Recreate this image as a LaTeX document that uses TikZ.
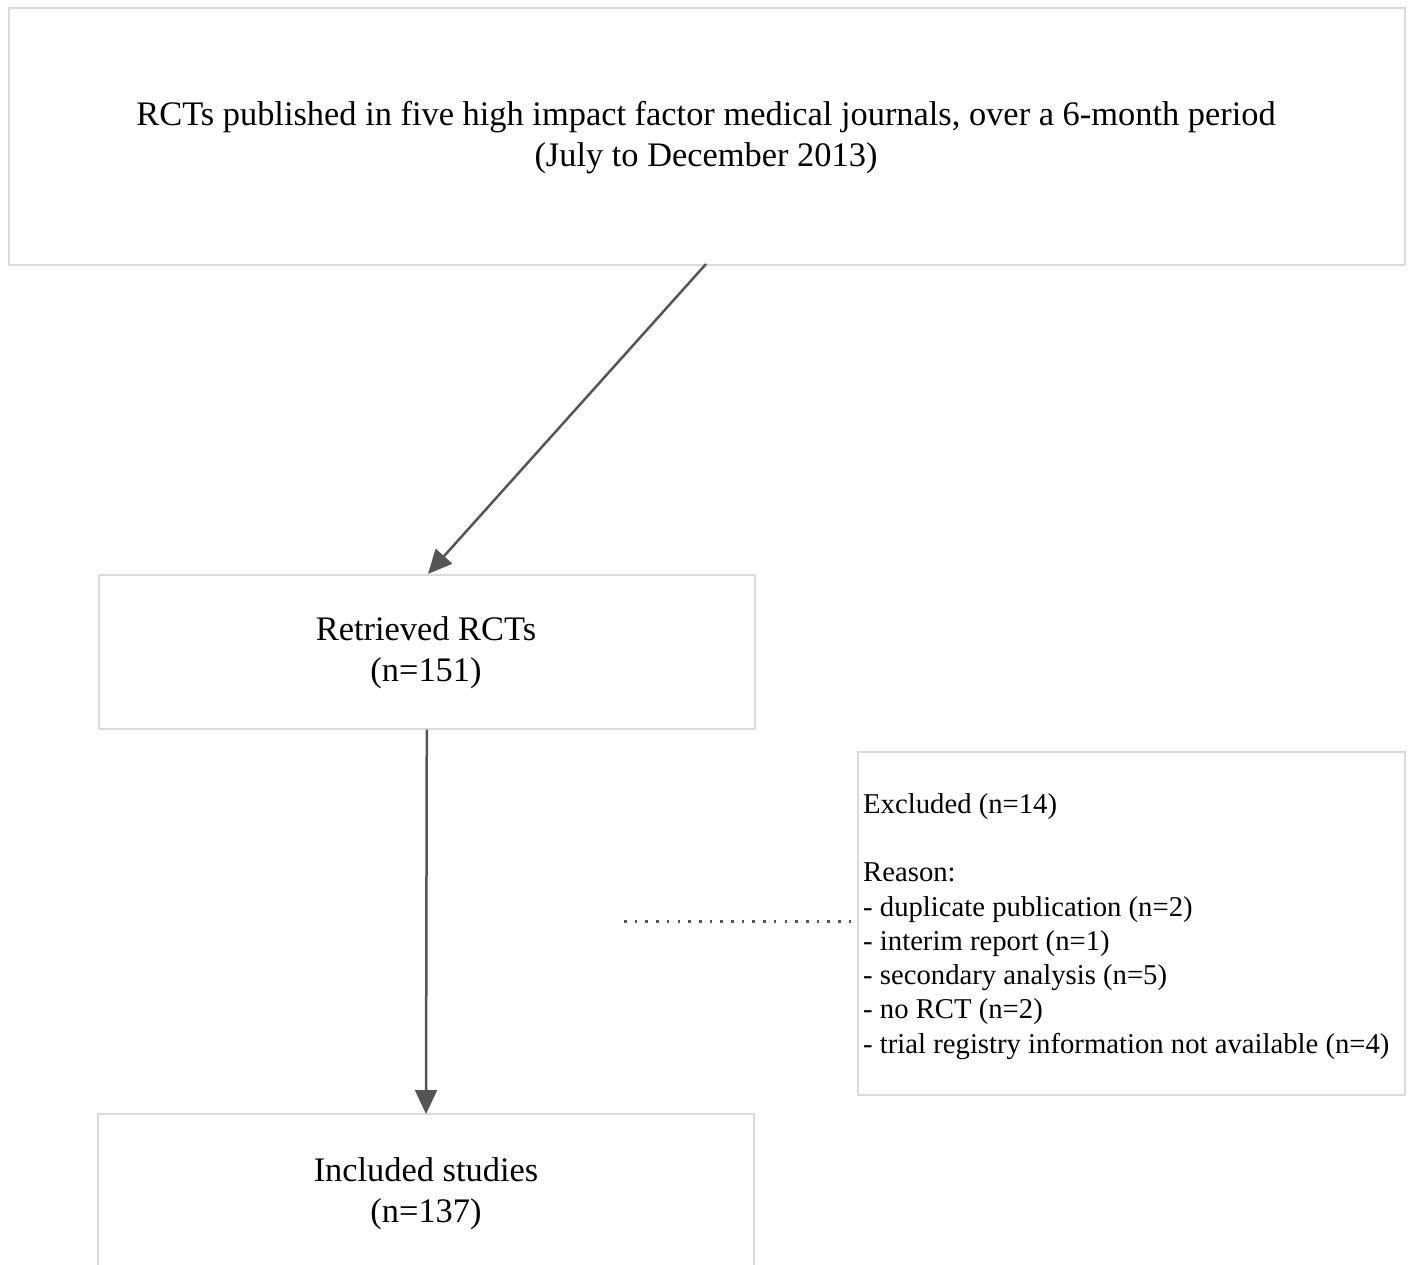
\documentclass[tikz,border=0pt]{standalone}
\usepackage{fontspec}
\setmainfont{Liberation Serif}
\usetikzlibrary{arrows.meta}
\definecolor{boxline}{HTML}{DADADA}
\definecolor{arrowcol}{HTML}{555555}
\begin{document}
\begin{tikzpicture}[x=1pt,y=-1pt,
  boxstyle/.style={draw=boxline,line width=1.6pt,fill=white},
  bigtext/.style={font=\fontsize{34.4}{41}\selectfont,align=center},
  smalltext/.style={font=\fontsize{28.7}{34.3}\selectfont,align=left},
  conn/.style={draw=arrowcol,line width=2.5pt,-{Triangle[length=24pt,width=22pt]}}]
\useasboundingbox (0,0) rectangle (1408,1264);
% boxes
\node[boxstyle,minimum width=1396pt,minimum height=257pt,anchor=north west,inner sep=0pt] (top) at (8,7) {};
\node[boxstyle,minimum width=656pt,minimum height=154pt,anchor=north west,inner sep=0pt] (ret) at (98,574) {};
\node[boxstyle,minimum width=547pt,minimum height=343pt,anchor=north west,inner sep=0pt] (exc) at (857,751) {};
\draw[draw=boxline,line width=1.6pt,fill=white] (98,1280) -- (98,1114) -- (754,1114) -- (754,1280);
\coordinate (incl) at (426,1114);
% texts
\node[bigtext] (toptext) at (706,138) {RCTs published in five high impact factor medical journals, over a 6-month period\\(July to December 2013)};
\node[bigtext] (rettext) at (426,653) {Retrieved RCTs\\(n=151)};
\node[bigtext] (incltext) at (426,1194) {Included studies\\(n=137)};
\node[smalltext,anchor=north west,inner sep=0pt] (exctext) at (863,793) {Excluded (n=14)\\[34.3pt]Reason:\\- duplicate publication (n=2)\\- interim report (n=1)\\- secondary analysis (n=5)\\- no RCT (n=2)\\- trial registry information not available (n=4)};
% connectors
\coordinate (topout) at (706,264);
\coordinate (retin) at (428,574);
\draw[conn] (topout) -- (retin);
\draw[conn] (ret.south) -- (incl);
\coordinate (dotstart) at (624,921.5);
\coordinate (dotend) at (exc.west |- dotstart);
\draw[arrowcol,line width=2.6pt,dash pattern=on 2.6pt off 8.1pt] (dotstart) -- (dotend);
\end{tikzpicture}
\end{document}
